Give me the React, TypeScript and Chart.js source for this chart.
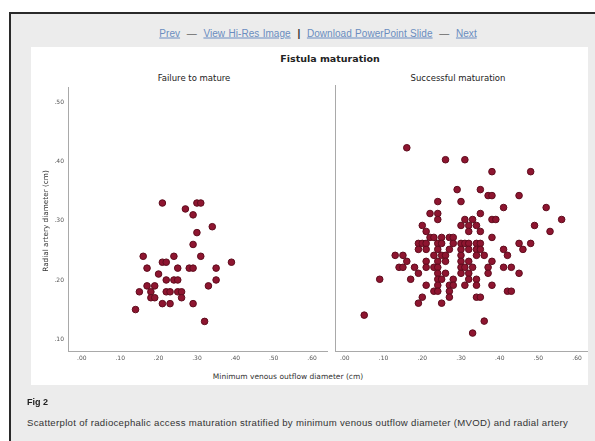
import React, { useEffect, useRef } from "react";
import { Chart, registerables } from "chart.js";

Chart.register(...registerables);

// Failure to mature: minimum venous outflow diameter (x) vs radial artery diameter (y), cm
const failX = [0.21, 0.27, 0.30, 0.31, 0.29, 0.34, 0.30, 0.29, 0.16, 0.24, 0.31, 0.21, 0.22, 0.39, 0.17, 0.25, 0.28, 0.29, 0.35, 0.20, 0.17, 0.19, 0.22, 0.24, 0.25, 0.35, 0.33, 0.15, 0.18, 0.22, 0.23, 0.25, 0.26, 0.18, 0.19, 0.26, 0.21, 0.23, 0.29, 0.14, 0.32];
const failY = [0.33, 0.32, 0.33, 0.33, 0.31, 0.29, 0.28, 0.26, 0.24, 0.24, 0.24, 0.23, 0.23, 0.23, 0.22, 0.22, 0.22, 0.22, 0.22, 0.21, 0.19, 0.19, 0.20, 0.20, 0.20, 0.20, 0.19, 0.18, 0.18, 0.18, 0.18, 0.18, 0.18, 0.17, 0.17, 0.17, 0.16, 0.16, 0.16, 0.15, 0.13];

// Successful maturation
const succX = [
  0.16, 0.26, 0.31, 0.38, 0.48, 0.29, 0.35, 0.37, 0.38, 0.45,
  0.24, 0.30, 0.41, 0.52, 0.22, 0.24, 0.35, 0.24, 0.56, 0.31,
  0.33, 0.38, 0.39, 0.20, 0.30, 0.32, 0.34, 0.49, 0.21, 0.32,
  0.35, 0.53, 0.22, 0.23, 0.25, 0.27, 0.28, 0.38, 0.19, 0.20,
  0.21, 0.24, 0.25, 0.28, 0.30, 0.31, 0.32, 0.34, 0.35, 0.45,
  0.48, 0.19, 0.21, 0.24, 0.27, 0.30, 0.32, 0.34, 0.35, 0.41,
  0.46, 0.13, 0.15, 0.23, 0.25, 0.26, 0.30, 0.34, 0.36, 0.42,
  0.16, 0.21, 0.24, 0.26, 0.30, 0.32, 0.38, 0.14, 0.15, 0.18,
  0.21, 0.23, 0.24, 0.30, 0.31, 0.33, 0.37, 0.41, 0.43, 0.19,
  0.24, 0.26, 0.30, 0.32, 0.37, 0.45, 0.09, 0.17, 0.24, 0.25,
  0.28, 0.32, 0.34, 0.21, 0.24, 0.27, 0.28, 0.31, 0.34, 0.38,
  0.23, 0.24, 0.27, 0.42, 0.43, 0.20, 0.27, 0.34, 0.35, 0.19,
  0.25, 0.05, 0.36, 0.33,
];
const succY = [
  0.42, 0.40, 0.40, 0.38, 0.38, 0.35, 0.35, 0.34, 0.34, 0.34,
  0.33, 0.33, 0.32, 0.32, 0.31, 0.31, 0.31, 0.30, 0.30, 0.30,
  0.30, 0.30, 0.30, 0.29, 0.29, 0.29, 0.29, 0.29, 0.28, 0.28,
  0.28, 0.28, 0.27, 0.27, 0.27, 0.27, 0.27, 0.27, 0.26, 0.26,
  0.26, 0.26, 0.26, 0.26, 0.26, 0.26, 0.26, 0.26, 0.26, 0.26,
  0.26, 0.25, 0.25, 0.25, 0.25, 0.25, 0.25, 0.25, 0.25, 0.25,
  0.25, 0.24, 0.24, 0.24, 0.24, 0.24, 0.24, 0.24, 0.24, 0.24,
  0.23, 0.23, 0.23, 0.23, 0.23, 0.23, 0.23, 0.22, 0.22, 0.22,
  0.22, 0.22, 0.22, 0.22, 0.22, 0.22, 0.22, 0.22, 0.22, 0.21,
  0.21, 0.21, 0.21, 0.21, 0.21, 0.21, 0.20, 0.20, 0.20, 0.20,
  0.20, 0.20, 0.20, 0.19, 0.19, 0.19, 0.19, 0.19, 0.19, 0.19,
  0.18, 0.18, 0.18, 0.18, 0.18, 0.17, 0.17, 0.17, 0.17, 0.16,
  0.16, 0.14, 0.13, 0.11,
];

const xTicks = [0, 0.1, 0.2, 0.3, 0.4, 0.5, 0.6];
const yTicks = [0.1, 0.2, 0.3, 0.4, 0.5];

const fmt = (v: number) => "." + Math.round(v * 100).toString().padStart(2, "0");
const zip = (xs: number[], ys: number[]) => xs.map((x, i) => ({ x, y: ys[i] }));

const FONT = "'DejaVu Sans', sans-serif";
const POINT_FILL = "#8e1530";
const POINT_EDGE = "#5e0c1d";
const AXIS = "#a9a9a9";

function makeConfig(data: { x: number; y: number }[], opts: { xMin: number; xMax: number; showY: boolean; yWidth: number; padRight: number }) {
  return {
    type: "scatter" as const,
    data: {
      datasets: [
        {
          data,
          backgroundColor: POINT_FILL,
          borderColor: POINT_EDGE,
          borderWidth: 1,
          pointRadius: 3.3,
        },
      ],
    },
    options: {
      animation: false,
      responsive: false,
      maintainAspectRatio: false,
      layout: { padding: { top: 5, right: opts.padRight, left: 0, bottom: 0 } },
      plugins: { legend: { display: false }, tooltip: { enabled: false }, title: { display: false } },
      scales: {
        x: {
          type: "linear",
          min: opts.xMin,
          max: opts.xMax,
          grid: { display: false, drawTicks: false },
          border: { display: true, color: AXIS, width: 1 },
          afterBuildTicks: (s: any) => {
            s.ticks = xTicks.map((v) => ({ value: v }));
          },
          afterFit: (s: any) => {
            s.height = 19;
          },
          ticks: {
            callback: (v: any) => fmt(Number(v)),
            font: { family: FONT, size: 6 },
            color: "#555",
            padding: 4,
            maxRotation: 0,
            autoSkip: false,
          },
        },
        y: {
          type: "linear",
          min: 0.08,
          max: 0.525,
          grid: { display: false, drawTicks: false },
          border: { display: true, color: AXIS, width: 1 },
          afterBuildTicks: (s: any) => {
            s.ticks = yTicks.map((v) => ({ value: v }));
          },
          afterFit: (s: any) => {
            s.width = opts.yWidth;
          },
          ticks: {
            display: opts.showY,
            callback: (v: any) => fmt(Number(v)),
            font: { family: FONT, size: 6 },
            color: "#555",
            padding: 4,
          },
        },
      },
    },
  };
}

function ScatterPanel(props: { left: number; top: number; width: number; height: number; config: any }) {
  const ref = useRef<HTMLCanvasElement | null>(null);
  useEffect(() => {
    if (!ref.current) return;
    const chart = new Chart(ref.current, props.config);
    return () => chart.destroy();
  }, []);
  return (
    <canvas
      ref={ref}
      width={props.width}
      height={props.height}
      style={{ position: "absolute", left: props.left, top: props.top, width: props.width, height: props.height }}
    />
  );
}

const abs = (left: number, top: number, extra: React.CSSProperties = {}): React.CSSProperties => ({
  position: "absolute",
  left,
  top,
  transform: "translate(-50%, -50%)",
  whiteSpace: "nowrap",
  ...extra,
});

export default function App() {
  const leftCfg = makeConfig(zip(failX, failY), { xMin: -0.036, xMax: 0.639, showY: true, yWidth: 28, padRight: 3 });
  const rightCfg = makeConfig(zip(succX, succY), { xMin: -0.0255, xMax: 0.6255, showY: false, yWidth: 3, padRight: 4 });
  const link: React.CSSProperties = { color: "#6a8cc0", textDecoration: "underline" };
  return (
    <div style={{ position: "fixed", left: 0, top: 0, width: 595, height: 441, background: "#ffffff", overflow: "hidden" }}>
      <div
        style={{
          position: "absolute",
          left: 9,
          top: 12,
          width: 600,
          height: 440,
          background: "#ececec",
          borderTop: "2px solid #2a2a2a",
          borderLeft: "2px solid #2a2a2a",
        }}
      />
      <div
        style={abs(318, 33, {
          fontFamily: "'Liberation Sans', Arial, sans-serif",
          fontSize: 10,
          letterSpacing: 0.05,
          color: "#666",
          wordSpacing: 0.5,
        })}
      >
        <span style={link}>Prev</span>&nbsp; — &nbsp;<span style={link}>View Hi-Res Image</span>&nbsp;{" "}
        <span style={{ fontWeight: "bold", color: "#333" }}>|</span>&nbsp; <span style={link}>Download PowerPoint Slide</span>&nbsp; — &nbsp;
        <span style={link}>Next</span>
      </div>
      <div style={{ position: "absolute", left: 31, top: 47, width: 557, height: 338, background: "#ffffff" }} />
      <div style={abs(330, 58, { fontFamily: FONT, fontSize: 9.5, fontWeight: "bold", color: "#222" })}>Fistula maturation</div>
      <div style={abs(194, 78, { fontFamily: FONT, fontSize: 8.5, color: "#222" })}>Failure to mature</div>
      <div style={abs(458, 78, { fontFamily: FONT, fontSize: 8.5, color: "#222" })}>Successful maturation</div>
      <ScatterPanel left={40} top={80} width={292} height={290} config={leftCfg} />
      <ScatterPanel left={330} top={80} width={262} height={290} config={rightCfg} />
      <div
        style={abs(45, 221, {
          fontFamily: FONT,
          fontSize: 7.3,
          color: "#333",
          transform: "translate(-50%, -50%) rotate(-90deg)",
        })}
      >
        Radial artery diameter (cm)
      </div>
      <div style={abs(288, 376, { fontFamily: FONT, fontSize: 7.5, color: "#333" })}>Minimum venous outflow diameter (cm)</div>
      <div
        style={{
          position: "absolute",
          left: 27,
          top: 397,
          fontFamily: "'Liberation Sans', Arial, sans-serif",
          fontSize: 9,
          fontWeight: "bold",
          color: "#222",
        }}
      >
        Fig 2
      </div>
      <div
        style={{
          position: "absolute",
          left: 27,
          top: 417,
          fontFamily: "'Liberation Sans', Arial, sans-serif",
          fontSize: 9.6,
          letterSpacing: 0.3,
          color: "#333",
          whiteSpace: "nowrap",
        }}
      >
        Scatterplot of radiocephalic access maturation stratified by minimum venous outflow diameter (MVOD) and radial artery
      </div>
    </div>
  );
}
